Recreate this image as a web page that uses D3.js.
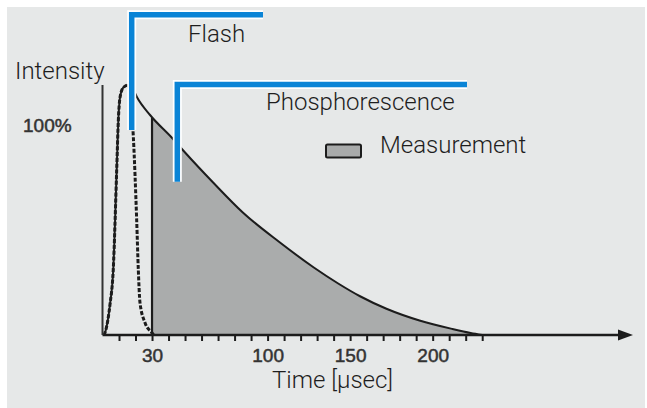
<!DOCTYPE html>
<html>
<head>
<meta charset="utf-8">
<script src="https://cdn.jsdelivr.net/npm/d3@7"></script>
<style>
  body { margin: 0; background: #fff; }
  svg { display: block; }
</style>
</head>
<body>
<svg width="647" height="408"></svg>
<script>
// phosphorescence decay curve, time in usec, intensity in % of peak
const phosTime = [1, 2, 4.5, 6.5, 8.6, 9.6, 10.6, 12.6, 15.6, 18.7, 21, 28.8, 41.9, 50, 67, 85, 107.5, 128, 143, 156, 172, 192, 212, 223, 230]
const phosIntensity = [0, 2, 12, 26, 66, 86, 95, 99, 100, 98, 95, 88, 79, 73, 61, 49, 37, 27, 20.5, 15.5, 10.5, 5.8, 2.4, 0.8, 0]

// excitation flash (dashed)
const flashTime = [1, 2, 4.5, 6.5, 8.6, 9.6, 10.6, 12.6, 15.6, 17, 18.7, 20.7, 21.7, 22.7, 25.7, 29.8, 31]
const flashIntensity = [0, 2, 12, 26, 66, 86, 95, 99, 100, 95, 79, 46, 26, 13, 5, 1, 0]

// measurement window starts here
const measureStart = 30

// axis ticks
const minorTicks = d3.range(10, 240, 10)
const tickLabels = [30, 100, 150, 200]

const phos = phosTime.map((t, i) => ({ t: t, v: phosIntensity[i] }))
const flash = flashTime.map((t, i) => ({ t: t, v: flashIntensity[i] }))

const svg = d3.select("svg")
const blue = "#0a84d6"
const ink = "#1c1c1c"
const font = "Roboto, 'Open Sans', sans-serif"
const tickFont = "'Liberation Sans', Arial, sans-serif"

// grey panel
svg.append("rect")
  .attr("x", 7).attr("y", 7)
  .attr("width", 638).attr("height", 401)
  .attr("fill", "#e6e8e8")

const x = d3.scaleLinear().domain([0, 230]).range([102.5, 482.2])
const y = d3.scaleLinear().domain([0, 100]).range([335, 85])

// shaded measurement area
const measured = phos.filter((d) => d.t >= measureStart)
const startV = d3.scaleLinear()
  .domain(phosTime.slice(10, 12))
  .range(phosIntensity.slice(10, 12))(measureStart)
measured.unshift({ t: measureStart, v: startV })

svg.append("path")
  .datum(measured)
  .attr("fill", "#aaacac")
  .attr("d", d3.area().x((d) => x(d.t)).y0(y(0)).y1((d) => y(d.v)).curve(d3.curveMonotoneX))

svg.append("line")
  .attr("x1", x(measureStart)).attr("x2", x(measureStart))
  .attr("y1", y(0)).attr("y2", y(startV))
  .attr("stroke", ink).attr("stroke-width", 2.2)

const line = d3.line().x((d) => x(d.t)).y((d) => y(d.v)).curve(d3.curveMonotoneX)

svg.append("path")
  .datum(phos)
  .attr("fill", "none")
  .attr("stroke", ink)
  .attr("stroke-width", 2)
  .attr("d", line)

svg.append("path")
  .datum(flash)
  .attr("fill", "none")
  .attr("stroke", ink)
  .attr("stroke-width", 3)
  .attr("stroke-dasharray", "4,1.8")
  .attr("d", line)

// x axis with arrow
const xAxis = svg.append("g")
  .attr("transform", "translate(0," + y(0) + ")")
  .call(d3.axisBottom(x).tickValues(minorTicks).tickSize(6)
    .tickFormat((d) => tickLabels.includes(d) ? d : ""))
xAxis.select(".domain").remove()
xAxis.selectAll(".tick line").attr("stroke", ink).attr("stroke-width", 2)
xAxis.selectAll(".tick text")
  .attr("y", 14)
  .attr("fill", "#333")
  .attr("stroke", "#333").attr("stroke-width", 0.5)
  .style("font-family", tickFont)
  .style("font-size", "19px")

svg.append("line")
  .attr("x1", x(0)).attr("x2", 620)
  .attr("y1", y(0)).attr("y2", y(0))
  .attr("stroke", ink).attr("stroke-width", 2.4)
svg.append("path")
  .attr("d", "M618," + (y(0) - 5.5) + "L633," + y(0) + "L618," + (y(0) + 5.5) + "Z")
  .attr("fill", ink)

// y axis
svg.append("line")
  .attr("x1", x(0)).attr("x2", x(0))
  .attr("y1", y(0)).attr("y2", y(100))
  .attr("stroke", "#333").attr("stroke-width", 2)

svg.append("text")
  .attr("x", 23).attr("y", 131.5)
  .attr("fill", "#333")
  .attr("stroke", "#333").attr("stroke-width", 0.5)
  .style("font-family", tickFont)
  .style("font-size", "19px")
  .text("100%")

// legend
svg.append("rect")
  .attr("x", 326).attr("y", 144.5)
  .attr("width", 35).attr("height", 13)
  .attr("rx", 1.5)
  .attr("fill", "#a9abab")
  .attr("stroke", ink).attr("stroke-width", 2)

// callout brackets
function callout(path) {
  svg.append("path").attr("d", path)
    .attr("fill", "none").attr("stroke", "#fff").attr("stroke-width", 9)
  svg.append("path").attr("d", path)
    .attr("fill", "none").attr("stroke", blue).attr("stroke-width", 5.5)
}
callout("M131.7,130V14.7H263")
callout("M177.3,181.7V84.5H467")

// labels
const labels = [
  { text: "Flash", x: 188, y: 42 },
  { text: "Intensity", x: 15, y: 79 },
  { text: "Phosphorescence", x: 266, y: 110 },
  { text: "Measurement", x: 380, y: 153 },
  { text: "Time [µsec]", x: 272, y: 388 },
]
svg.selectAll(".label")
  .data(labels)
  .enter()
  .append("text")
  .attr("class", "label")
  .attr("x", (d) => d.x)
  .attr("y", (d) => d.y)
  .attr("fill", "#1e1e1e")
  .style("font-family", font)
  .style("font-size", "24px")
  .style("font-weight", 300)
  .text((d) => d.text)
</script>
</body>
</html>
